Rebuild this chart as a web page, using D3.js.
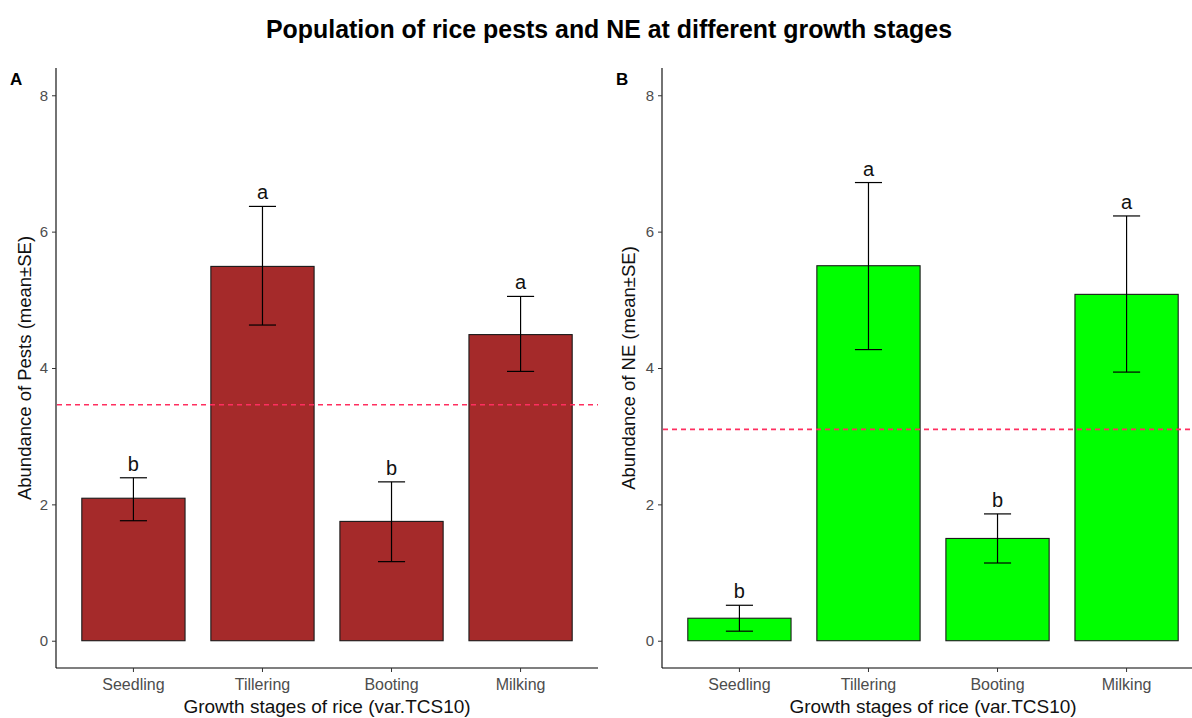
<!DOCTYPE html>
<html>
<head>
<meta charset="utf-8">
<script src="https://cdn.jsdelivr.net/npm/d3@7"></script>
<style>
  html, body { margin: 0; padding: 0; background: #ffffff; }
  svg { display: block; font-family: "Liberation Sans", Arial, sans-serif; }
</style>
</head>
<body>
<svg id="chart" width="1192" height="718"></svg>
<script>
// Growth stages of rice (x categories)
const stages = ["Seedling", "Tillering", "Booting", "Milking"];

// Panel A: pests (mean, SE bounds, letters)
const pestMean  = [2.09, 5.49, 1.75, 4.49];
const pestLow   = [1.76, 4.63, 1.16, 3.95];
const pestHigh  = [2.39, 6.37, 2.33, 5.05];
const pestGroup = ["b", "a", "b", "a"];
const pestRef   = 3.46;

// Panel B: natural enemies (mean, SE bounds, letters)
const neMean  = [0.33, 5.50, 1.50, 5.08];
const neLow   = [0.14, 4.27, 1.14, 3.94];
const neHigh  = [0.52, 6.72, 1.86, 6.23];
const neGroup = ["b", "a", "b", "a"];
const neRef   = 3.10;

const yTicks = [0, 2, 4, 6, 8];

const svg = d3.select("#chart");

svg.append("text")
  .attr("x", 609).attr("y", 38)
  .attr("text-anchor", "middle")
  .attr("font-size", 25).attr("font-weight", "bold")
  .attr("textLength", 686).attr("lengthAdjust", "spacingAndGlyphs")
  .attr("fill", "#000")
  .text("Population of rice pests and NE at different growth stages");

function drawPanel(opts) {
  const { left, right, top, bottom, mean, low, high, groups, ref, fill, tag, tagX, yTitle, yTitleX } = opts;

  const x = d3.scaleBand().domain(stages).range([left, right]);
  // discrete expansion: 0.6 step on each side, bars 0.8 step wide
  const step = (right - left) / 4.2;
  const cx = d => left + step * (0.6 + stages.indexOf(d));
  const bw = step * 0.8;
  const y = d3.scaleLinear().domain([-0.4, 8.4]).range([bottom, top]);

  const g = svg.append("g");

  // bars
  g.selectAll("rect.bar").data(stages).join("rect")
    .attr("class", "bar")
    .attr("x", d => cx(d) - bw / 2)
    .attr("width", bw)
    .attr("y", (d, i) => y(mean[i]))
    .attr("height", (d, i) => y(0) - y(mean[i]))
    .attr("fill", fill)
    .attr("stroke", "#1a1a1a").attr("stroke-width", 1.1);

  // error bars
  const cap = step * 0.21;
  const eb = g.selectAll("g.err").data(stages).join("g").attr("class", "err")
    .attr("stroke", "#000").attr("stroke-width", 1.2);
  eb.append("line")
    .attr("x1", d => cx(d)).attr("x2", d => cx(d))
    .attr("y1", (d, i) => y(high[i])).attr("y2", (d, i) => y(low[i]));
  eb.append("line")
    .attr("x1", d => cx(d) - cap / 2).attr("x2", d => cx(d) + cap / 2)
    .attr("y1", (d, i) => y(high[i])).attr("y2", (d, i) => y(high[i]));
  eb.append("line")
    .attr("x1", d => cx(d) - cap / 2).attr("x2", d => cx(d) + cap / 2)
    .attr("y1", (d, i) => y(low[i])).attr("y2", (d, i) => y(low[i]));

  // significance letters
  g.selectAll("text.grp").data(stages).join("text")
    .attr("class", "grp")
    .attr("x", d => cx(d))
    .attr("y", (d, i) => y(high[i]) - 7)
    .attr("text-anchor", "middle")
    .attr("font-size", 20).attr("fill", "#111")
    .text((d, i) => groups[i]);

  // reference (overall mean) line
  g.append("line")
    .attr("x1", left + 1).attr("x2", right)
    .attr("y1", y(ref)).attr("y2", y(ref))
    .attr("stroke", "#ff2e5f").attr("stroke-width", 1.6)
    .attr("stroke-dasharray", "5,4");

  // y axis
  const yAxis = g.append("g")
    .attr("transform", `translate(${left},0)`)
    .call(d3.axisLeft(y).tickValues(yTicks).tickSize(4).tickPadding(4).tickFormat(d3.format("d")));
  yAxis.select(".domain").attr("d", `M0,${top}V${bottom}`).attr("stroke", "#000").attr("stroke-width", 1.1);
  yAxis.selectAll(".tick line").attr("stroke", "#333");
  yAxis.selectAll(".tick text").attr("font-size", 15).attr("fill", "#4d4d4d")
    .attr("font-family", "Liberation Sans, Arial, sans-serif");

  // x axis
  const xAxis = g.append("g")
    .attr("transform", `translate(0,${bottom})`)
    .call(d3.axisBottom(x).tickSize(4).tickPadding(7));
  xAxis.selectAll(".tick").attr("transform", d => `translate(${cx(d)},0)`);
  xAxis.select(".domain").attr("d", `M${left},0H${right}`).attr("stroke", "#000").attr("stroke-width", 1.1);
  xAxis.selectAll(".tick line").attr("stroke", "#333");
  xAxis.selectAll(".tick text").attr("font-size", 16).attr("fill", "#4d4d4d")
    .attr("font-family", "Liberation Sans, Arial, sans-serif");

  // axis titles
  g.append("text")
    .attr("x", (left + right) / 2).attr("y", 713)
    .attr("text-anchor", "middle")
    .attr("font-size", 19).attr("fill", "#111")
    .text("Growth stages of rice (var.TCS10)");

  g.append("text")
    .attr("transform", `translate(${yTitleX},${(top + bottom) / 2}) rotate(-90)`)
    .attr("text-anchor", "middle")
    .attr("font-size", 18.5).attr("fill", "#111")
    .text(yTitle);

  // panel tag
  svg.append("text")
    .attr("x", tagX).attr("y", 85)
    .attr("font-size", 17).attr("font-weight", "bold").attr("fill", "#000")
    .text(tag);
}

drawPanel({
  left: 56, right: 598, top: 68, bottom: 668,
  mean: pestMean, low: pestLow, high: pestHigh, groups: pestGroup, ref: pestRef,
  fill: "#a52a2a", tag: "A", tagX: 10,
  yTitle: "Abundance of Pests (mean±SE)", yTitleX: 31
});

drawPanel({
  left: 662, right: 1204, top: 68, bottom: 668,
  mean: neMean, low: neLow, high: neHigh, groups: neGroup, ref: neRef,
  fill: "#00ff00", tag: "B", tagX: 616,
  yTitle: "Abundance of NE (mean±SE)", yTitleX: 635
});
</script>
</body>
</html>
